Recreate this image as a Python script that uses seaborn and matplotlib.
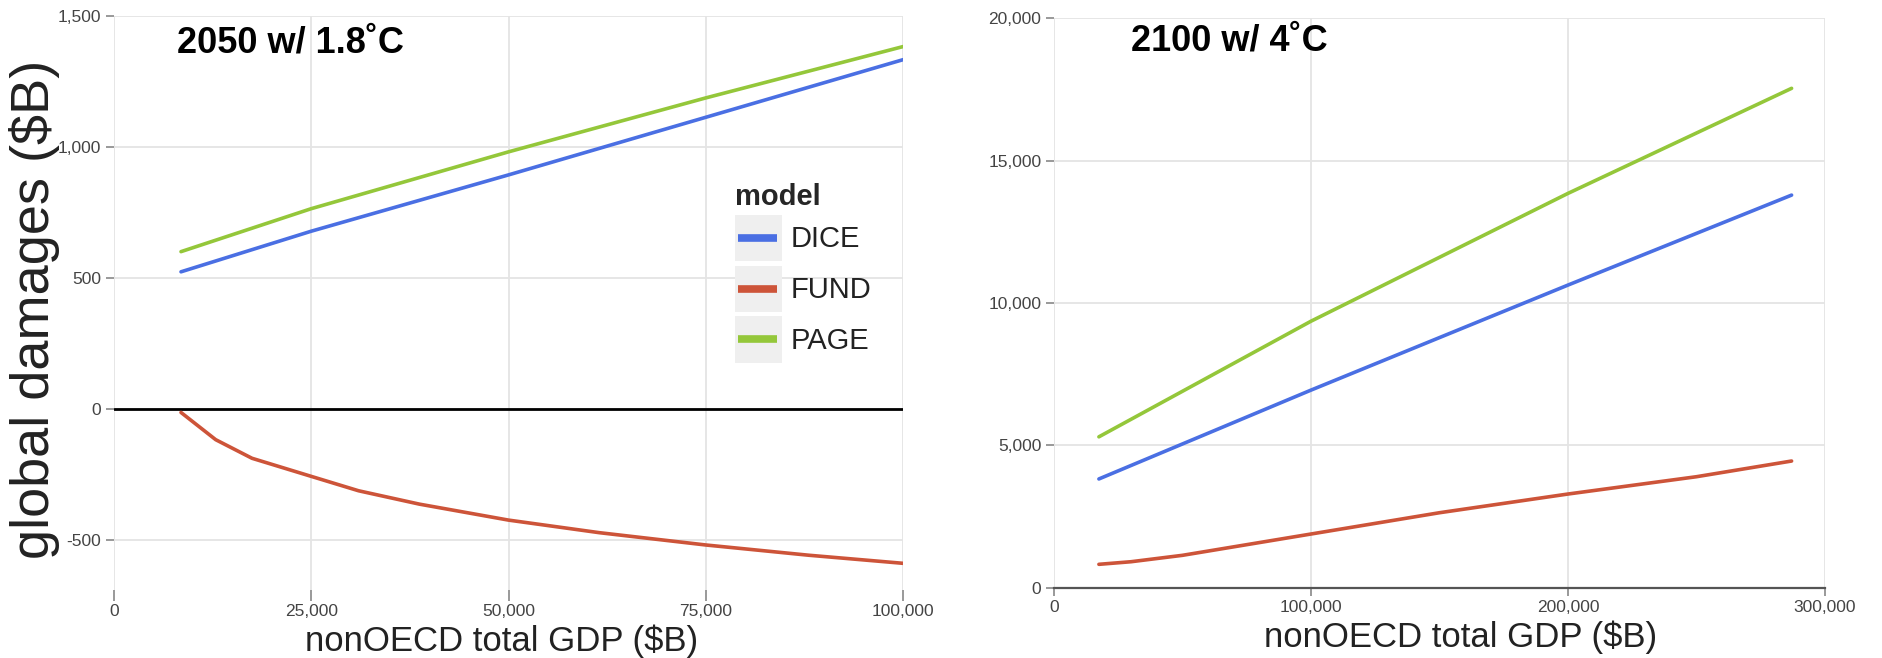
import numpy as np
import pandas as pd
import matplotlib
matplotlib.use("Agg")
import matplotlib.pyplot as plt
from matplotlib.patches import Rectangle
from matplotlib.lines import Line2D
from matplotlib.legend_handler import HandlerBase
from matplotlib.ticker import FuncFormatter
import seaborn as sns

# ---- data: global damages ($B) vs nonOECD total GDP ($B) ----
models = ["DICE", "FUND", "PAGE"]
colors = ["#4a6fe3", "#cd5439", "#94c73a"]

# 2050 with 1.8 C warming
gdp_2050_dice = [8500, 25000, 50000, 75000, 100000]
dmg_2050_dice = [525, 680, 895, 1115, 1335]
gdp_2050_page = [8500, 25000, 50000, 75000, 100000]
dmg_2050_page = [602, 766, 983, 1189, 1385]
gdp_2050_fund = [8500, 12900, 17500, 25000, 31000, 38700, 50000, 61500, 75000, 88000, 100000]
dmg_2050_fund = [-12, -116, -187, -256, -311, -362, -423, -471, -518, -557, -588]

# 2100 with 4 C warming
gdp_2100_dice = [17500, 100000, 200000, 287000]
dmg_2100_dice = [3820, 6940, 10630, 13790]
gdp_2100_page = [17500, 100000, 200000, 287000]
dmg_2100_page = [5300, 9360, 13850, 17540]
gdp_2100_fund = [17500, 30000, 50000, 100000, 150000, 200000, 250000, 287000]
dmg_2100_fund = [822, 913, 1138, 1886, 2634, 3291, 3899, 4450]

titles = ["2050 w/ 1.8\u02daC", "2100 w/ 4\u02daC"]
xlabel = "nonOECD total GDP ($B)"
ylabel = "global damages ($B)"


def frame(parts):
    rows = []
    for name, xs, ys in parts:
        rows += [{"model": name, "gdp": x, "damages": y} for x, y in zip(xs, ys)]
    return pd.DataFrame(rows)


df_2050 = frame([("DICE", gdp_2050_dice, dmg_2050_dice),
                 ("FUND", gdp_2050_fund, dmg_2050_fund),
                 ("PAGE", gdp_2050_page, dmg_2050_page)])
df_2100 = frame([("DICE", gdp_2100_dice, dmg_2100_dice),
                 ("FUND", gdp_2100_fund, dmg_2100_fund),
                 ("PAGE", gdp_2100_page, dmg_2100_page)])


class KeyBoxHandler(HandlerBase):
    """Legend key: a light grey square with a short coloured bar across it."""

    def create_artists(self, legend, orig_handle, xdescent, ydescent,
                       width, height, fontsize, trans):
        box = Rectangle((-xdescent, -ydescent), width, height,
                        facecolor="#efefef", edgecolor="none", transform=trans)
        yc = -ydescent + height / 2
        bar = Line2D([-xdescent + 2, -xdescent + width - 3], [yc, yc],
                     color=orig_handle.get_color(), linewidth=5.5,
                     solid_capstyle="butt", transform=trans)
        return [box, bar]


sns.set_style("whitegrid", {"grid.color": "#e4e4e4", "axes.edgecolor": "#555555"})
plt.rcParams["font.family"] = ["Liberation Sans", "DejaVu Sans"]

fig = plt.figure(figsize=(18.83, 6.58), dpi=100)
ax1 = fig.add_axes([0.0605, 0.1033, 0.4191, 0.8717])
ax2 = fig.add_axes([0.5597, 0.1068, 0.4095, 0.8654])

palette = dict(zip(models, colors))
comma = FuncFormatter(lambda v, p: f"{v:,.0f}")

for ax, df in [(ax1, df_2050), (ax2, df_2100)]:
    sns.lineplot(data=df, x="gdp", y="damages", hue="model", hue_order=models,
                 palette=palette, linewidth=2.6, legend=False, ax=ax, sort=True,
                 estimator=None)
    ax.xaxis.set_major_formatter(comma)
    ax.yaxis.set_major_formatter(comma)
    ax.set_xlabel(xlabel, fontsize=25, color="#222222")
    ax.set_ylabel("")
    ax.grid(True, color="#e4e4e4", linewidth=1.3)
    ax.set_axisbelow(True)
    for s in ["top", "right", "left", "bottom"]:
        ax.spines[s].set_visible(False)
    ax.tick_params(axis="both", which="both", direction="out", length=6,
                   width=1.2, color="#888888", labelcolor="#444444",
                   labelsize=12.5, left=True, bottom=True, pad=3)
    ax.xaxis.labelpad = 4

# left panel
ax1.set_xlim(0, 100000)
ax1.set_ylim(-690, 1500)
ax1.set_xticks([0, 25000, 50000, 75000, 100000])
ax1.set_yticks([-500, 0, 500, 1000, 1500])
ax1.axhline(0, color="black", linewidth=2, zorder=1.5)
ax1.tick_params(axis="x", length=8, pad=2)
ax1.set_ylabel(ylabel, fontsize=39, color="#222222")
ax1.yaxis.set_label_coords(-0.068, 0.49)
ax1.xaxis.label.set_x(0.491)

# right panel
ax2.set_xlim(0, 300000)
ax2.set_ylim(0, 20000)
ax2.set_xticks([0, 100000, 200000, 300000])
ax2.set_yticks([0, 5000, 10000, 15000, 20000])
ax2.spines["bottom"].set_visible(True)
ax2.spines["bottom"].set_color("#555555")
ax2.spines["bottom"].set_linewidth(1.6)
ax2.tick_params(axis="x", pad=3)
ax2.xaxis.label.set_x(0.527)

# panel titles
ax1.text(0.08, 0.938, titles[0], transform=ax1.transAxes, fontsize=26,
         fontweight="bold", color="black", va="baseline", ha="left")
ax2.text(0.0994, 0.943, titles[1], transform=ax2.transAxes, fontsize=26,
         fontweight="bold", color="black", va="baseline", ha="left")

# legend with shaded key boxes
handles = [Line2D([0], [0], color=c) for c in colors]
leg = ax1.legend(handles, models, handler_map={Line2D: KeyBoxHandler()},
                 loc="upper left", bbox_to_anchor=(0.787, 0.71),
                 frameon=False, fontsize=21, title="model",
                 title_fontproperties={"weight": "bold", "size": 21},
                 alignment="left", handlelength=1.6, handleheight=2.08,
                 labelspacing=0.14, handletextpad=0.3, borderpad=0,
                 borderaxespad=0)
for t in leg.get_texts():
    t.set_color("#222222")

fig.savefig("out.png", dpi=100)
